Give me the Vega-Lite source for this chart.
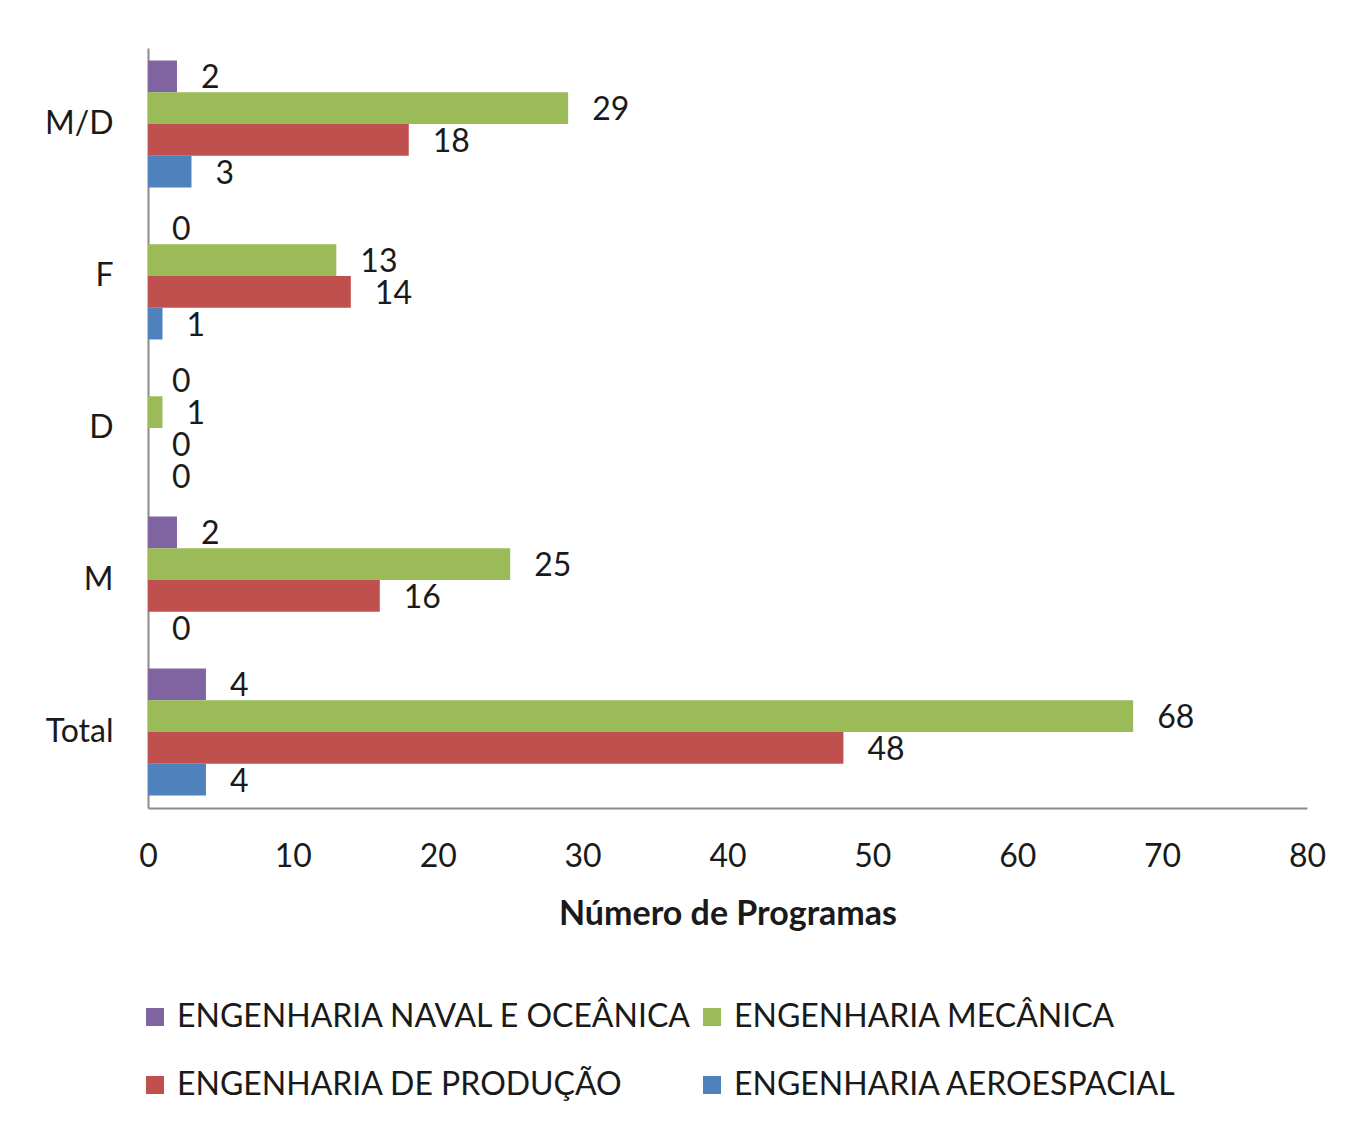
{
  "$schema": "https://vega.github.io/schema/vega-lite/v6.json",
  "autosize": {"type": "none"},
  "width": 1159,
  "height": 760,
  "padding": {"left": 148, "top": 48, "right": 45, "bottom": 321},
  "background": "#ffffff",
  "config": {
    "font": "Lato",
    "view": {"stroke": null},
    "axis": {"domainColor": "#8c8c8c", "domainWidth": 2, "grid": false, "ticks": false, "labelColor": "#1a1a1a", "labelFontSize": 32, "labelFont": "Lato"}
  },
  "data": {
    "values": [
      {"nivel": "M/D", "area": "ENGENHARIA NAVAL E OCEÂNICA", "programas": 2},
      {"nivel": "M/D", "area": "ENGENHARIA MECÂNICA", "programas": 29},
      {"nivel": "M/D", "area": "ENGENHARIA DE PRODUÇÃO", "programas": 18},
      {"nivel": "M/D", "area": "ENGENHARIA AEROESPACIAL", "programas": 3},
      {"nivel": "F", "area": "ENGENHARIA NAVAL E OCEÂNICA", "programas": 0},
      {"nivel": "F", "area": "ENGENHARIA MECÂNICA", "programas": 13},
      {"nivel": "F", "area": "ENGENHARIA DE PRODUÇÃO", "programas": 14},
      {"nivel": "F", "area": "ENGENHARIA AEROESPACIAL", "programas": 1},
      {"nivel": "D", "area": "ENGENHARIA NAVAL E OCEÂNICA", "programas": 0},
      {"nivel": "D", "area": "ENGENHARIA MECÂNICA", "programas": 1},
      {"nivel": "D", "area": "ENGENHARIA DE PRODUÇÃO", "programas": 0},
      {"nivel": "D", "area": "ENGENHARIA AEROESPACIAL", "programas": 0},
      {"nivel": "M", "area": "ENGENHARIA NAVAL E OCEÂNICA", "programas": 2},
      {"nivel": "M", "area": "ENGENHARIA MECÂNICA", "programas": 25},
      {"nivel": "M", "area": "ENGENHARIA DE PRODUÇÃO", "programas": 16},
      {"nivel": "M", "area": "ENGENHARIA AEROESPACIAL", "programas": 0},
      {"nivel": "Total", "area": "ENGENHARIA NAVAL E OCEÂNICA", "programas": 4},
      {"nivel": "Total", "area": "ENGENHARIA MECÂNICA", "programas": 68},
      {"nivel": "Total", "area": "ENGENHARIA DE PRODUÇÃO", "programas": 48},
      {"nivel": "Total", "area": "ENGENHARIA AEROESPACIAL", "programas": 4}
    ]
  },
  "encoding": {
    "y": {
      "field": "nivel",
      "type": "nominal",
      "sort": ["M/D", "F", "D", "M", "Total"],
      "scale": {"paddingInner": 0.165, "paddingOuter": 0.0825},
      "axis": {"title": null, "labelPadding": 35}
    },
    "yOffset": {
      "field": "area",
      "type": "nominal",
      "sort": ["ENGENHARIA NAVAL E OCEÂNICA", "ENGENHARIA MECÂNICA", "ENGENHARIA DE PRODUÇÃO", "ENGENHARIA AEROESPACIAL"],
      "scale": {"paddingInner": 0, "paddingOuter": 0}
    },
    "x": {
      "field": "programas",
      "type": "quantitative",
      "scale": {"domain": [0, 80], "nice": false},
      "axis": {
        "values": [0, 10, 20, 30, 40, 50, 60, 70, 80],
        "labelFlush": false,
        "labelPadding": 33,
        "title": "Número de Programas",
        "titleFont": "Lato",
        "titleFontSize": 34,
        "titleFontWeight": "bold",
        "titleColor": "#1a1a1a",
        "titlePadding": 25
      }
    }
  },
  "layer": [
    {
      "mark": {"type": "bar"},
      "encoding": {
        "color": {
          "field": "area",
          "type": "nominal",
          "scale": {
            "domain": ["ENGENHARIA NAVAL E OCEÂNICA", "ENGENHARIA MECÂNICA", "ENGENHARIA DE PRODUÇÃO", "ENGENHARIA AEROESPACIAL"],
            "range": ["#8064a2", "#9bbb59", "#c0504d", "#4f81bd"]
          },
          "legend": {
            "title": null,
            "orient": "none",
            "direction": "horizontal",
            "legendX": -9,
            "legendY": 953,
            "columns": 2,
            "columnPadding": 4,
            "rowPadding": 36,
            "symbolType": "square",
            "symbolSize": 324,
            "symbolStrokeWidth": 0,
            "labelFontSize": 32,
            "labelFont": "Lato",
            "labelColor": "#1a1a1a",
            "labelOffset": 6,
            "labelLimit": 1000
          }
        }
      }
    },
    {
      "mark": {"type": "text", "align": "left", "baseline": "middle", "dx": 24, "dy": 2, "fontSize": 32, "color": "#1a1a1a"},
      "encoding": {"text": {"field": "programas", "type": "quantitative"}}
    }
  ]
}
